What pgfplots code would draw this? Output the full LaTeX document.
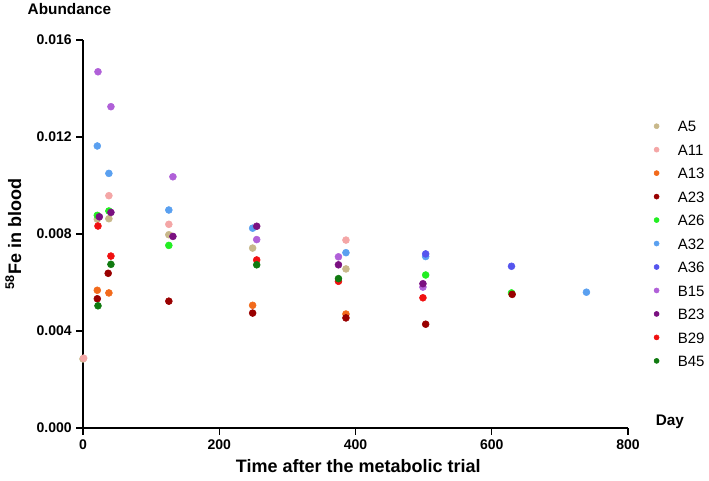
\documentclass[border=0pt]{standalone}
\usepackage{fontspec}
\setmainfont{Liberation Sans}
\usepackage{pgfplots}
\pgfplotsset{compat=1.18}

\definecolor{cA5}{HTML}{C8B88A}
\definecolor{cA11}{HTML}{F4A6A6}
\definecolor{cA13}{HTML}{F26A1B}
\definecolor{cA23}{HTML}{990000}
\definecolor{cA26}{HTML}{22EE22}
\definecolor{cA32}{HTML}{5AA0F0}
\definecolor{cA36}{HTML}{5555EE}
\definecolor{cB15}{HTML}{B060D8}
\definecolor{cB23}{HTML}{7A1080}
\definecolor{cB29}{HTML}{F01010}
\definecolor{cB45}{HTML}{107A10}

\pgfplotsset{
    dot/.style={only marks, mark=*, mark size=2.6pt, color=#1, mark options={fill=#1, draw=#1}},
}

\begin{document}
\begin{tikzpicture}
\begin{axis}[
    name=ax,
    scale only axis,
    width=408.75pt,
    height=291pt,
    xmin=0, xmax=800,
    ymin=0, ymax=0.016,
    xtick={0,200,400,600,800},
    ytick={0,0.004,0.008,0.012,0.016},
    scaled y ticks=false,
    axis x line*=bottom,
    axis y line*=left,
    axis line style={line width=1.1pt},
    tick style={line width=1.1pt, black},
    major tick length=5pt,
    tick align=outside,
    clip=false,
    /pgf/number format/assume math mode=true,
    ticklabel style={font=\fontsize{10.5pt}{12pt}\selectfont\bfseries},
    y tick label style={/pgf/number format/.cd, fixed, fixed zerofill, precision=3},
    xlabel={Time after the metabolic trial},
    xlabel style={font=\fontsize{13.5pt}{16pt}\selectfont\bfseries, at={(rel axis cs:0.505,-0.097)}, anchor=center},
    ylabel={\textsuperscript{58}Fe in blood},
    ylabel style={font=\fontsize{13.5pt}{16pt}\selectfont\bfseries, at={(rel axis cs:-0.128,0.50)}, anchor=center},
    legend image code/.code={\draw[#1, mark size=1.9pt] plot coordinates {(0.15cm,0cm)};},
    legend style={at={(rel axis cs:1.04,0.80)}, anchor=north west, draw=none, fill=none,
        font=\fontsize{11.25pt}{13pt}\selectfont,
        nodes={inner sep=0pt, text height=8.5pt, text depth=0pt},
        row sep=9.1pt, column sep=14pt},
    legend cell align=left,
]
\addplot[dot=cA5] coordinates {(0,0.00285) (21,0.00861) (38,0.00863) (126,0.00797) (249,0.00742) (386,0.00656)};
\addplot[dot=cA11] coordinates {(1,0.00288) (38,0.00958) (126,0.00840) (386,0.00775)};
\addplot[dot=cA13] coordinates {(21,0.00568) (38,0.00557) (249,0.00506) (386,0.00470)};
\addplot[dot=cA23] coordinates {(21,0.00533) (37,0.00638) (126,0.00523) (249,0.00474) (386,0.00454) (503,0.00428)};
\addplot[dot=cA26] coordinates {(21,0.00877) (38,0.00895) (126,0.00753) (503,0.00631) (629,0.00557)};
\addplot[dot=cA23, forget plot] coordinates {(630,0.00551)};
\addplot[dot=cA32] coordinates {(21,0.01163) (38,0.01050) (126,0.00899) (249,0.00824) (386,0.00723) (503,0.00707) (739,0.00560)};
\addplot[dot=cA36] coordinates {(503,0.00718) (629,0.00667)};
\addplot[dot=cB15] coordinates {(22,0.01469) (41,0.01325) (132,0.01036) (255,0.00777) (375,0.00706) (499,0.00581)};
\addplot[dot=cB23] coordinates {(24,0.00871) (41,0.00889) (132,0.00790) (255,0.00832) (375,0.00673) (499,0.00595)};
\addplot[dot=cB29] coordinates {(22,0.00833) (41,0.00709) (255,0.00693) (375,0.00605) (499,0.00537)};
\addplot[dot=cB45] coordinates {(22,0.00504) (41,0.00675) (255,0.00673) (375,0.00616)};
\legend{A5,A11,A13,A23,A26,A32,A36,B15,B23,B29,B45}
\node[font=\fontsize{11.5pt}{14pt}\selectfont\bfseries] at (rel axis cs:-0.0248,1.080) {Abundance};
\node[font=\fontsize{11.5pt}{14pt}\selectfont\bfseries] at (rel axis cs:1.077,0.0155) {Day};
\end{axis}
\pgfresetboundingbox
\path (ax.south west) ++(-62.25pt,-39pt) rectangle ++(531.75pt,360pt);
\end{tikzpicture}
\end{document}
